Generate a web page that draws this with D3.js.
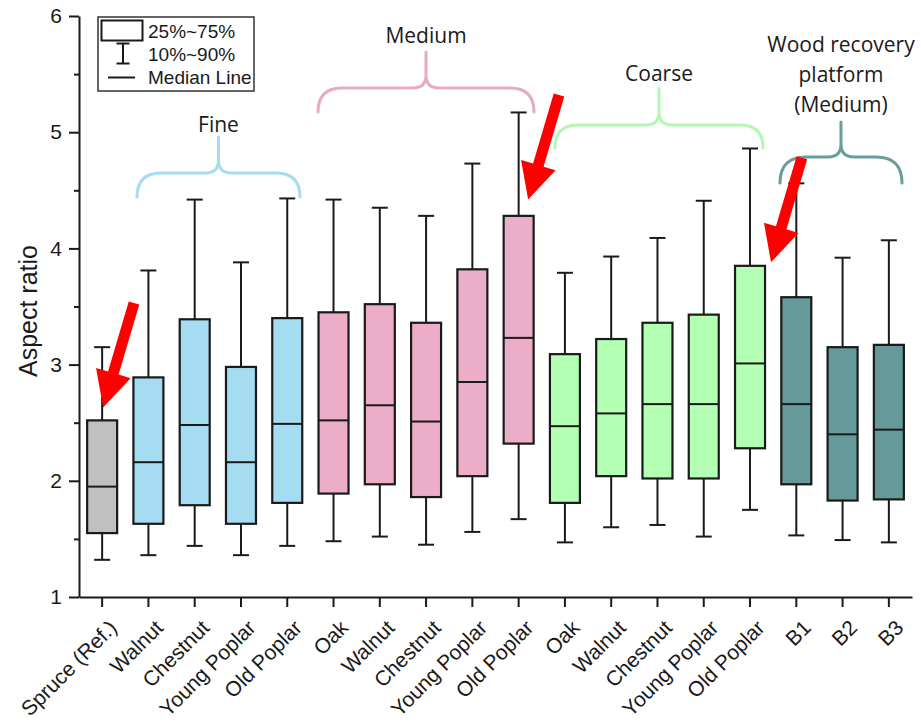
<!DOCTYPE html>
<html>
<head>
<meta charset="utf-8">
<script src="https://cdn.jsdelivr.net/npm/d3@7"></script>
<style>
  html, body { margin: 0; padding: 0; background: #fff; }
  svg { display: block; }
</style>
</head>
<body>
<svg id="chart" width="921" height="723"></svg>
<script>
// ---------- data ----------
const categories = ["Spruce (Ref.)","Walnut","Chestnut","Young Poplar","Old Poplar",
  "Oak","Walnut","Chestnut","Young Poplar","Old Poplar",
  "Oak","Walnut","Chestnut","Young Poplar","Old Poplar",
  "B1","B2","B3"];
const groups = ["Ref","Fine","Fine","Fine","Fine",
  "Medium","Medium","Medium","Medium","Medium",
  "Coarse","Coarse","Coarse","Coarse","Coarse",
  "Platform","Platform","Platform"];
const p90    = [3.15,3.81,4.42,3.88,4.43, 4.42,4.35,4.28,4.73,5.17, 3.79,3.93,4.09,4.41,4.86, 4.56,3.92,4.07];
const q3     = [2.52,2.89,3.39,2.98,3.40, 3.45,3.52,3.36,3.82,4.28, 3.09,3.22,3.36,3.43,3.85, 3.58,3.15,3.17];
const median = [1.95,2.16,2.48,2.16,2.49, 2.52,2.65,2.51,2.85,3.23, 2.47,2.58,2.66,2.66,3.01, 2.66,2.40,2.44];
const q1     = [1.55,1.63,1.79,1.63,1.81, 1.89,1.97,1.86,2.04,2.32, 1.81,2.04,2.02,2.02,2.28, 1.97,1.83,1.84];
const p10    = [1.32,1.36,1.44,1.36,1.44, 1.48,1.52,1.45,1.56,1.67, 1.47,1.60,1.62,1.52,1.75, 1.53,1.49,1.47];
const yTicks = [1,2,3,4,5,6];
const yMinorTicks = [1.5,2.5,3.5,4.5,5.5];
const legendLabels = ["25%~75%","10%~90%","Median Line"];
// group annotations: first/last category index and label lines
const braceGroups = [
  {name:"Fine",     from:1,  to:4,  lines:["Fine"]},
  {name:"Medium",   from:5,  to:9,  lines:["Medium"]},
  {name:"Coarse",   from:10, to:14, lines:["Coarse"]},
  {name:"Platform", from:15, to:17, lines:["Wood recovery","platform","(Medium)"]}
];
// red arrows: target category and value of the arrow tip
const arrowTargets = [
  {cat:0,  value:2.63, dx:1},
  {cat:9,  value:4.42, dx:9.5},
  {cat:14, value:3.88, dx:21}
];

// ---------- styles ----------
const fillColor = {Ref:"#c0c0c0", Fine:"#a6dcf1", Medium:"#ebadc8", Coarse:"#b3ffb3", Platform:"#669999"};
const braceColor = {Fine:"#a6dcf1", Medium:"#e8a9c5", Coarse:"#b3f7b3", Platform:"#6a9e9e"};
// brace geometry (pixels relative to chart)
const braceGeom = {
  Fine:     {x1:137, x2:300, yb:197, yh:173, yp:137, ty:[132]},
  Medium:   {x1:318, x2:534, yb:112, yh:88,  yp:52,  ty:[43]},
  Coarse:   {x1:555, x2:763, yb:148, yh:125, yp:88,  ty:[81]},
  Platform: {x1:780, x2:902, yb:183, yh:157, yp:122, ty:[52,82,112]}
};

const svg = d3.select("#chart");
const axisFont = "'Liberation Sans', Arial, sans-serif";
const annFont = "'Open Sans', 'Noto Sans', sans-serif";

const y = d3.scaleLinear().domain([1,6]).range([597,16]);
const x = d3.scaleBand().domain(d3.range(categories.length)).range([79,912]).paddingInner(0).paddingOuter(0);
const bw = x.bandwidth();
const boxW = 30, capW = 16;
const cx = i => x(i) + bw/2;

// ---------- axes ----------
const yAxis = svg.append("g").attr("transform","translate(79,0)")
  .call(d3.axisLeft(y).tickValues(yTicks).tickSize(10).tickSizeOuter(0).tickPadding(7).tickFormat(d3.format("d")));
yAxis.selectAll("text").attr("font-family",axisFont).attr("font-size",21).attr("fill","#1a1a1a");
yAxis.selectAll("line,path").attr("stroke","#1a1a1a").attr("stroke-width",2);
const yMinor = svg.append("g").attr("transform","translate(79,0)")
  .call(d3.axisLeft(y).tickValues(yMinorTicks).tickSize(5).tickFormat(""));
yMinor.select("path").remove();
yMinor.selectAll("line").attr("stroke","#1a1a1a").attr("stroke-width",2);

const xAxis = svg.append("g").attr("transform","translate(0,597)")
  .call(d3.axisBottom(x).tickSize(10).tickSizeOuter(0).tickFormat(i => categories[i]));
xAxis.selectAll("line,path").attr("stroke","#1a1a1a").attr("stroke-width",2);
xAxis.selectAll("text")
  .attr("font-family",axisFont).attr("font-size",21).attr("fill","#1a1a1a")
  .attr("text-anchor","end").attr("x",0).attr("y",0).attr("dy",0)
  .attr("transform","translate(16,32) rotate(-45)");

svg.append("text")
  .attr("transform","translate(37,311) rotate(-90)")
  .attr("text-anchor","middle")
  .attr("font-family",axisFont).attr("font-size",25).attr("fill","#1a1a1a")
  .text("Aspect ratio");

// ---------- boxes ----------
const boxes = svg.append("g").selectAll("g").data(d3.range(categories.length)).join("g");
boxes.append("line").attr("x1",cx).attr("x2",cx).attr("y1",i=>y(p90[i])).attr("y2",i=>y(q3[i]))
  .attr("stroke","#1a1a1a").attr("stroke-width",2);
boxes.append("line").attr("x1",cx).attr("x2",cx).attr("y1",i=>y(q1[i])).attr("y2",i=>y(p10[i]))
  .attr("stroke","#1a1a1a").attr("stroke-width",2);
boxes.append("line").attr("x1",i=>cx(i)-capW/2).attr("x2",i=>cx(i)+capW/2).attr("y1",i=>y(p90[i])).attr("y2",i=>y(p90[i]))
  .attr("stroke","#1a1a1a").attr("stroke-width",2);
boxes.append("line").attr("x1",i=>cx(i)-capW/2).attr("x2",i=>cx(i)+capW/2).attr("y1",i=>y(p10[i])).attr("y2",i=>y(p10[i]))
  .attr("stroke","#1a1a1a").attr("stroke-width",2);
boxes.append("rect").attr("x",i=>cx(i)-boxW/2).attr("width",boxW)
  .attr("y",i=>y(q3[i])).attr("height",i=>y(q1[i])-y(q3[i]))
  .attr("fill",i=>fillColor[groups[i]]).attr("stroke","#1a1a1a").attr("stroke-width",2.2);
boxes.append("line").attr("x1",i=>cx(i)-boxW/2).attr("x2",i=>cx(i)+boxW/2).attr("y1",i=>y(median[i])).attr("y2",i=>y(median[i]))
  .attr("stroke","#1a1a1a").attr("stroke-width",2);

// ---------- legend ----------
const lg = svg.append("g");
lg.append("rect").attr("x",98).attr("y",17).attr("width",156).attr("height",74)
  .attr("fill","#fff").attr("stroke","#333").attr("stroke-width",1.5);
lg.append("rect").attr("x",101.5).attr("y",20.5).attr("width",41).attr("height",20)
  .attr("fill","#fff").attr("stroke","#1a1a1a").attr("stroke-width",2);
lg.append("path").attr("d","M116.5,43.5H129.5M123,43.5V63.5M116.5,63.5H129.5")
  .attr("fill","none").attr("stroke","#1a1a1a").attr("stroke-width",2);
lg.append("line").attr("x1",108).attr("x2",135).attr("y1",77.5).attr("y2",77.5)
  .attr("stroke","#1a1a1a").attr("stroke-width",2);
lg.selectAll("text.lg").data(legendLabels).join("text").attr("class","lg")
  .attr("x",148).attr("y",(d,i)=>31+i*23).attr("dy","0.35em")
  .attr("font-family",axisFont).attr("font-size",19).attr("fill","#1a1a1a")
  .text(d=>d);

// ---------- braces ----------
function bracePath(g) {
  const xc = (g.x1 + g.x2)/2;
  const r = g.yb - g.yh;
  const r2 = 13;
  return `M${g.x1},${g.yb} Q${g.x1},${g.yh} ${g.x1+r},${g.yh} L${xc-r2},${g.yh} Q${xc},${g.yh} ${xc},${g.yh-r2} L${xc},${g.yp}` +
         ` M${xc},${g.yh-r2} Q${xc},${g.yh} ${xc+r2},${g.yh} L${g.x2-r},${g.yh} Q${g.x2},${g.yh} ${g.x2},${g.yb}`;
}
const bg = svg.append("g");
braceGroups.forEach(b => {
  const g = braceGeom[b.name];
  bg.append("path").attr("d",bracePath(g)).attr("fill","none")
    .attr("stroke",braceColor[b.name]).attr("stroke-width",3).attr("stroke-linecap","round");
  const xc = (g.x1 + g.x2)/2;
  b.lines.forEach((t,k) => {
    bg.append("text").attr("x",xc).attr("y",g.ty[k]).attr("text-anchor","middle")
      .attr("font-family",annFont).attr("font-size",21).attr("fill","#1a1a1a").text(t);
  });
});

// ---------- red arrows ----------
const arrowLen = 109, headLen = 36, headHalf = 18, shaftHalf = 5.5;
const ang = Math.atan2(105, -31);
const ag = svg.append("g");
arrowTargets.forEach(a => {
  const tipX = cx(a.cat) + a.dx;
  const tipY = y(a.value);
  const tailX = tipX - arrowLen*Math.cos(ang), tailY = tipY - arrowLen*Math.sin(ang);
  const L = arrowLen, s = L - headLen;
  const d = `M0,${-shaftHalf} L${s},${-shaftHalf} L${s},${-headHalf} L${L},0 L${s},${headHalf} L${s},${shaftHalf} L0,${shaftHalf} Z`;
  ag.append("path").attr("d",d).attr("fill","#ff0000")
    .attr("transform",`translate(${tailX},${tailY}) rotate(${ang*180/Math.PI})`);
});
</script>
</body>
</html>
